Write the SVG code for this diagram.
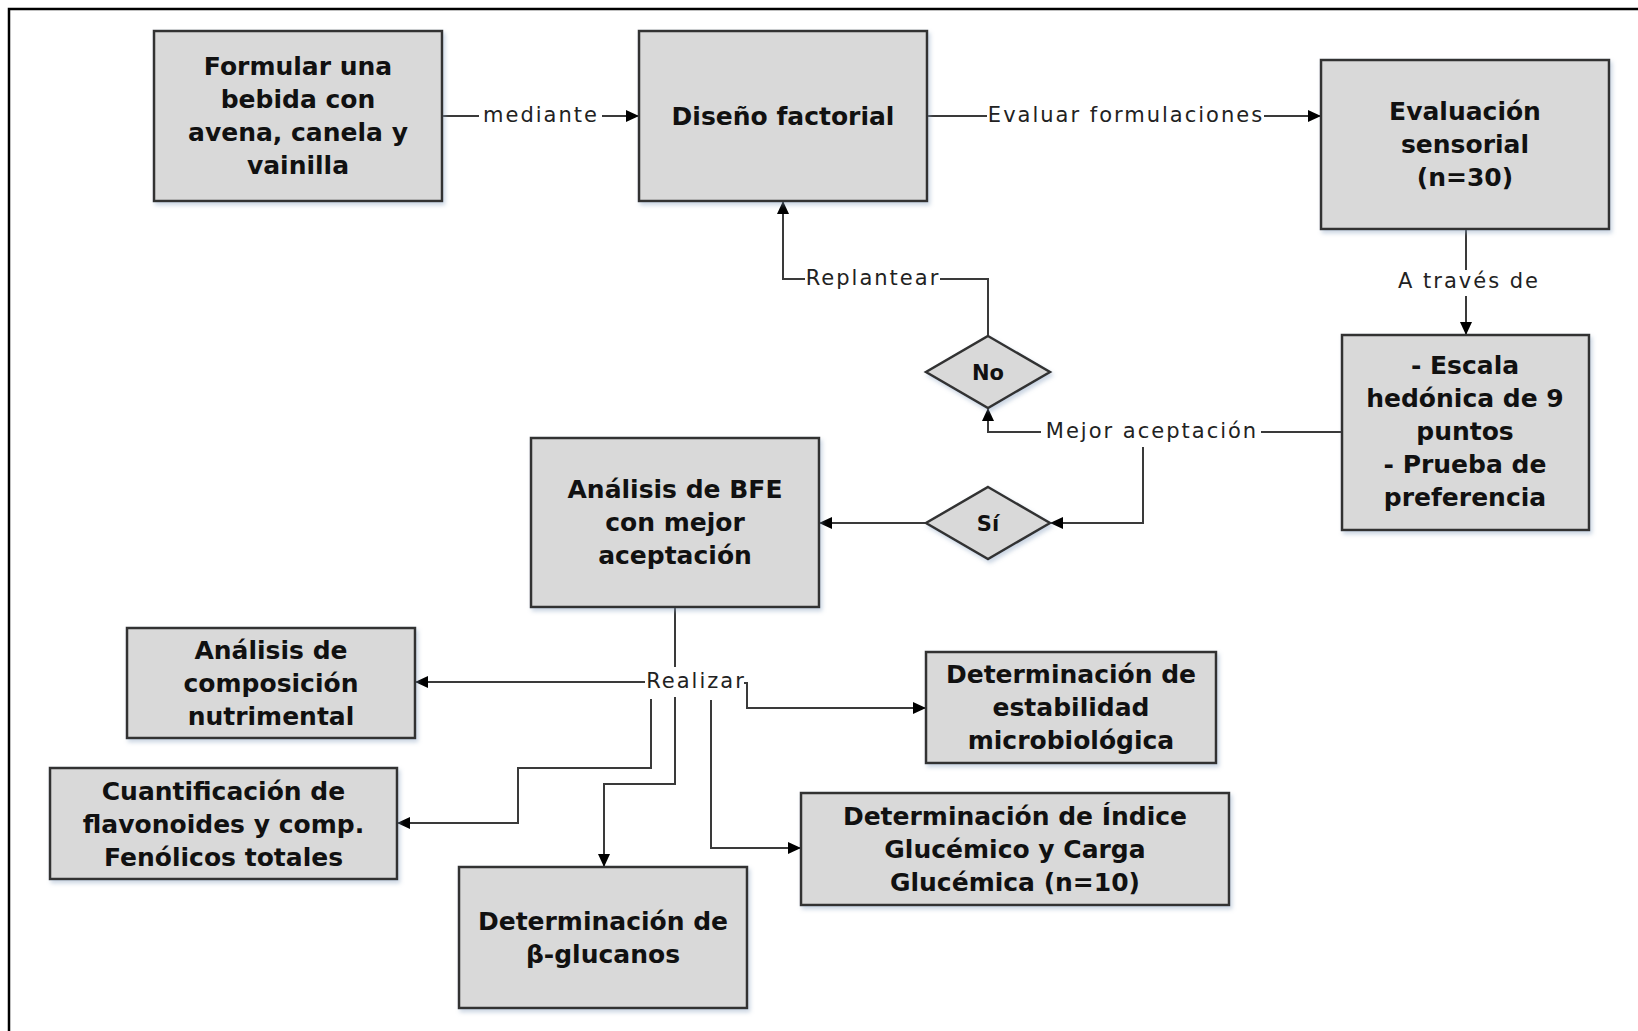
<svg xmlns="http://www.w3.org/2000/svg" width="1638" height="1031" viewBox="0 0 1638 1031">
<style>
.box{fill:#d9d9d9;stroke:#333;stroke-width:2.5;filter:url(#sh)}
.t{font-family:"DejaVu Sans",Verdana,sans-serif;font-weight:bold;font-size:25px;fill:#111;text-anchor:middle}
.d{font-family:"DejaVu Sans",Verdana,sans-serif;font-weight:bold;font-size:21px;fill:#111;text-anchor:middle}
.lbl{font-family:"DejaVu Sans",Verdana,sans-serif;font-size:21px;letter-spacing:2px;fill:#222;text-anchor:middle}
.c{fill:none;stroke:#3a3a3a;stroke-width:2}
.a{marker-end:url(#ah)}
</style>
<defs>
<filter id="sh" x="-10%" y="-10%" width="130%" height="130%">
<feDropShadow dx="2" dy="3" stdDeviation="2" flood-color="#8aa0c0" flood-opacity="0.45"/>
</filter>
<marker id="ah" markerUnits="userSpaceOnUse" markerWidth="14" markerHeight="12" refX="13" refY="6" orient="auto">
<path d="M0,0 L13,6 L0,12 Z" fill="#000"/>
</marker>
</defs>
<rect width="1638" height="1031" fill="#fff"/>
<path d="M9,1031 V9 H1638" fill="none" stroke="#000" stroke-width="2.5"/>

<g id="connectors">
<path class="c" d="M442,116 H479"/>
<path class="c a" d="M602,116 H639"/>
<text class="lbl" x="541" y="122">mediante</text>
<path class="c" d="M927,116 H987"/>
<path class="c a" d="M1264,116 H1321"/>
<text class="lbl" x="1126" y="122">Evaluar formulaciones</text>
<path class="c" d="M1466,229 V270"/>
<path class="c a" d="M1466,296 V335"/>
<text class="lbl" x="1469" y="288">A través de</text>
<path class="c" d="M1342,432 H1261"/>
<path class="c a" d="M1041,432 H988 V408"/>
<text class="lbl" x="1152" y="438">Mejor aceptación</text>
<path class="c a" d="M1143,447 V523 H1050"/>
<path class="c" d="M988,336 V279 H940"/>
<path class="c a" d="M805,279 H783 V201"/>
<text class="lbl" x="873" y="285">Replantear</text>
<path class="c a" d="M926,523 H819"/>
<path class="c" d="M675,607 V667"/>
<text class="lbl" x="696" y="688">Realizar</text>
<path class="c a" d="M645,682 H415"/>
<path class="c a" d="M744,683 H747 V708 H926"/>
<path class="c a" d="M651,699 V768 H518 V823 H397"/>
<path class="c a" d="M675,697 V784 H604 V867"/>
<path class="c a" d="M711,700 V848 H801"/>
</g>

<g id="n-formular">
<rect class="box" x="154" y="31" width="288" height="170"/>
<text class="t" x="298" y="75">Formular una</text>
<text class="t" x="298" y="108">bebida con</text>
<text class="t" x="298" y="141">avena, canela y</text>
<text class="t" x="298" y="174">vainilla</text>
</g>
<g id="n-diseno">
<rect class="box" x="639" y="31" width="288" height="170"/>
<text class="t" x="783" y="125">Diseño factorial</text>
</g>
<g id="n-evaluacion">
<rect class="box" x="1321" y="60" width="288" height="169"/>
<text class="t" x="1465" y="120">Evaluación</text>
<text class="t" x="1465" y="153">sensorial</text>
<text class="t" x="1465" y="186">(n=30)</text>
</g>
<g id="n-escala">
<rect class="box" x="1342" y="335" width="247" height="195"/>
<text class="t" x="1465" y="374">- Escala</text>
<text class="t" x="1465" y="407">hedónica de 9</text>
<text class="t" x="1465" y="440">puntos</text>
<text class="t" x="1465" y="473">- Prueba de</text>
<text class="t" x="1465" y="506">preferencia</text>
</g>
<g id="n-no">
<polygon class="box" points="988,336 1050,372 988,408 926,372"/>
<text class="d" x="988" y="380">No</text>
</g>
<g id="n-si">
<polygon class="box" points="988,487 1050,523 988,559 926,523"/>
<text class="d" x="988" y="531">Sí</text>
</g>
<g id="n-analisis-bfe">
<rect class="box" x="531" y="438" width="288" height="169"/>
<text class="t" x="675" y="498">Análisis de BFE</text>
<text class="t" x="675" y="531">con mejor</text>
<text class="t" x="675" y="564">aceptación</text>
</g>
<g id="n-composicion">
<rect class="box" x="127" y="628" width="288" height="110"/>
<text class="t" x="271" y="659">Análisis de</text>
<text class="t" x="271" y="692">composición</text>
<text class="t" x="271" y="725">nutrimental</text>
</g>
<g id="n-flavonoides">
<rect class="box" x="50" y="768" width="347" height="111"/>
<text class="t" x="223.5" y="800">Cuantificación de</text>
<text class="t" x="223.5" y="833">flavonoides y comp.</text>
<text class="t" x="223.5" y="866">Fenólicos totales</text>
</g>
<g id="n-glucanos">
<rect class="box" x="459" y="867" width="288" height="141"/>
<text class="t" x="603" y="930">Determinación de</text>
<text class="t" x="603" y="963">β-glucanos</text>
</g>
<g id="n-estabilidad">
<rect class="box" x="926" y="652" width="290" height="111"/>
<text class="t" x="1071" y="683">Determinación de</text>
<text class="t" x="1071" y="716">estabilidad</text>
<text class="t" x="1071" y="749">microbiológica</text>
</g>
<g id="n-indice">
<rect class="box" x="801" y="793" width="428" height="112"/>
<text class="t" x="1015" y="825">Determinación de Índice</text>
<text class="t" x="1015" y="858">Glucémico y Carga</text>
<text class="t" x="1015" y="891">Glucémica (n=10)</text>
</g>
</svg>
